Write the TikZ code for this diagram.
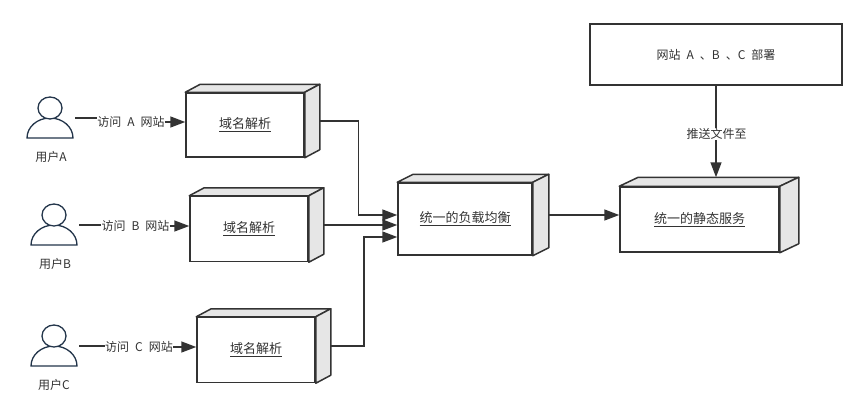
\documentclass[tikz,border=0pt]{standalone}
\usepackage{fontspec}
\setmainfont{Noto Sans CJK SC}
\usetikzlibrary{arrows.meta}
\usetikzlibrary{shapes.geometric}
\definecolor{linegray}{HTML}{333333}
\definecolor{sidegray}{HTML}{E6E6E6}
\definecolor{usernavy}{HTML}{23354A}
\newcommand{\gap}{\hspace{6pt}}
\tikzset{%
  conn/.style = {draw=linegray,line width=1.5pt},
  arrow/.style = {conn,-{Triangle[length=15pt,width=11pt]}},
  lbl/.style = {text=linegray,font=\fontsize{12}{14}\selectfont,inner sep=0pt},
  plain/.style = {draw=linegray,line width=1.5pt,fill=white,font=\fontsize{12}{14}\selectfont,
        text=linegray,minimum width=252pt,minimum height=61pt,inner sep=0pt},
  cube/.style 2 args = {draw=linegray,line width=1.5pt,fill=white,inner sep=0pt,
        text=linegray,font=\fontsize{13}{15}\selectfont,
        minimum width=#1pt,minimum height=#2pt},
  face/.style = {draw=linegray,line width=1.5pt,fill=sidegray,line join=round},
  pics/user/.style = {code={
        \draw[draw=usernavy,line width=1.3pt,fill=white]
            (-23,30) arc[start angle=180,end angle=360,x radius=23,y radius=20] -- cycle;
        \node[draw=usernavy,line width=1.3pt,fill=white,ellipse,inner sep=0pt,
            minimum width=24pt,minimum height=22pt] (head) at (0,0) {};
        \coordinate (port) at (25,10);
  }}
}
\begin{document}
\begin{tikzpicture}[x=1pt,y=-1pt]
\useasboundingbox (0,0) rectangle (866,407);

% users
\pic (ua) at (50,108) {user};
\pic (ub) at (54,215) {user};
\pic (uc) at (54,336) {user};
\node[lbl] (namea) at (51,157) {用户A};
\node[lbl] (nameb) at (55,264) {用户B};
\node[lbl] (namec) at (54,385) {用户C};

% boxes
\node[cube={118}{64}] (dnsa) at (245,125) {\underline{域名解析}};
\node[cube={118}{65}] (dnsb) at (249,229) {\underline{域名解析}};
\node[cube={118}{65}] (dnsc) at (256,350) {\underline{域名解析}};
\node[cube={134}{72}] (balance) at (465,219) {\underline{统一的负载均衡}};
\node[cube={159}{65}] (static) at (699.5,219.5) {\underline{统一的静态服务}};
\node[plain] (deploy) at (716,54.5) {\raisebox{-2.5pt}{网站\gap A\gap 、B\gap 、C\gap 部署}};

% side faces
\foreach \n/\dx/\dy in {dnsa/15/-8,dnsb/15/-8,dnsc/15/-8,balance/16/-8,static/19/-9}{
  \coordinate (\n-back) at ([shift={(\dx,\dy)}]\n.north east);
  \coordinate (\n-side) at ([shift={(\dx,\dy/2)}]\n.east);
  \coordinate (\n-top) at ([shift={(\dx/2,\dy)}]\n.north);
  \draw[face] (\n.north west) -- ++(\dx,\dy) -- (\n-back) -- (\n.north east) -- cycle;
  \draw[face] (\n.north east) -- (\n-back) -- ([shift={(\dx,\dy)}]\n.south east) -- (\n.south east) -- cycle;
}

% labels on connectors
\node[lbl] (visita) at (131,122) {访问\gap A\gap 网站};
\node[lbl] (visitb) at (135.5,226) {访问\gap B\gap 网站};
\node[lbl] (visitc) at (139,347) {访问\gap C\gap 网站};
\node[lbl] (push) at (716.5,134) {推送文件至};

\draw[conn] (uaport) -- (visita.west |- uaport);
\draw[arrow] (visita.east) -- (visita.east -| dnsa.west);
\draw[conn] (ubport) -- (visitb.west |- ubport);
\draw[arrow] (visitb.east) -- (visitb.east -| dnsb.west);
\draw[conn] (ucport) -- (visitc.west |- ucport);
\draw[arrow] (visitc.east) -- (visitc.east -| dnsc.west);

\coordinate (ja) at (358.5,215);
\coordinate (jc) at (364,237);
\draw[arrow] (dnsa-side) -| (ja) -- (ja -| balance.west);
\draw[arrow] (dnsb-side) -- (dnsb-side -| balance.west);
\draw[arrow] (dnsc-side) -| (jc) -- (jc -| balance.west);
\draw[arrow] (balance-side) -- (balance-side -| static.west);
\draw[conn] (deploy.south) -- (push.north -| deploy);
\draw[arrow] (push.south -| deploy) -- (deploy |- static-top);
\end{tikzpicture}
\end{document}
